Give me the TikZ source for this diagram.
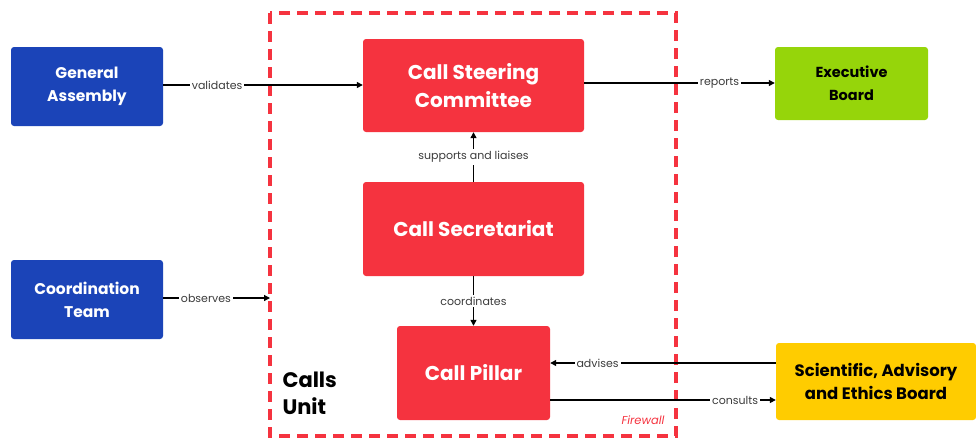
\documentclass[tikz,border=0pt]{standalone}
\usepackage{fontspec}
\setmainfont{Poppins}
\usepackage{tikz}
\usetikzlibrary{arrows.meta}
\definecolor{cblue}  {RGB}{27,68,184}
\definecolor{cred}   {RGB}{245,51,63}
\definecolor{cgreen} {RGB}{150,213,10}
\definecolor{cyellow}{RGB}{255,204,0}
\definecolor{cgray}  {RGB}{60,60,60}
\tikzset{
    unitbox/.style={fill=#1, rounded corners=3pt, align=center, font=\bfseries\fontsize{15.5}{23}\selectfont},
    outerbox/.style={unitbox=cblue, text=white, minimum width=152pt, minimum height=79pt},
    callbox/.style={unitbox=cred, text=white, font=\bfseries\fontsize{20}{28}\selectfont},
    link/.style={draw=black, line width=1.3pt, -{Triangle[length=6pt,width=6pt]}},
    linklabel/.style={fill=white, text=cgray, inner sep=2pt, font=\fontsize{11}{12}\selectfont},
    firewall/.style={draw=cred, line width=3.2pt, dash pattern=on 11pt off 7pt}
  }
\begin{document}
\begin{tikzpicture}[x=1pt, y=-1pt]
 \useasboundingbox (0,0) rectangle (976,439);
 % the calls unit frame
     \draw[firewall] (270,13) rectangle (676,436);
     \node[anchor=north west, align=left, font=\bfseries\fontsize{21}{27}\selectfont] (unit) at (279,368) {Calls\\Unit};
     \node[anchor=south east, text=cred, font=\itshape\fontsize{11.5}{12}\selectfont] (fw) at (668,428) {Firewall};
 % outside bodies
     \node[outerbox] (ga) at (87,86.5) {General\\Assembly};
     \node[outerbox] (ct) at (87,299.5) {Coordination\\Team};
     \node[unitbox=cgreen, minimum width=153pt, minimum height=73pt, font=\bfseries\fontsize{14.5}{23}\selectfont] (eb) at (851.5,83.5) {Executive\\Board};
     \node[unitbox=cyellow, minimum width=200pt, minimum height=77pt, font=\bfseries\fontsize{16.5}{23}\selectfont] (sab) at (876,381.5) {Scientific, Advisory\\and Ethics Board};
 % calls unit bodies
     \node[callbox, minimum width=221pt, minimum height=93pt] (csc) at (473.5,85.5) {Call Steering\\Committee};
     \node[callbox, minimum width=221pt, minimum height=94pt] (sec) at (473.5,229) {Call Secretariat};
     \node[callbox, minimum width=153pt, minimum height=94pt] (pil) at (473.5,373) {Call Pillar};
     \coordinate (edge) at (270,298);
 % links
     \draw[link] (ga.east |- 0,85) -- node[linklabel, pos=0.27] {validates} (csc.west |- 0,85);
     \draw[link] (csc.east |- 0,83) -- node[linklabel, pos=0.71] {reports} (eb.west |- 0,83);
     \draw[link] (ct.east |- edge) -- node[linklabel, pos=0.4] {observes} (edge);
     \draw[link] (sec.north) -- node[linklabel] {supports and liaises} (csc.south);
     \draw[link] (sec.south) -- node[linklabel] {coordinates} (pil.north);
     \draw[link] (sab.west |- 0,363) -- node[linklabel, pos=0.79] {advises} (pil.east |- 0,363);
     \draw[link] (pil.east |- 0,400) -- node[linklabel, pos=0.82] {consults} (sab.west |- 0,400);
 \end{tikzpicture}
\end{document}
